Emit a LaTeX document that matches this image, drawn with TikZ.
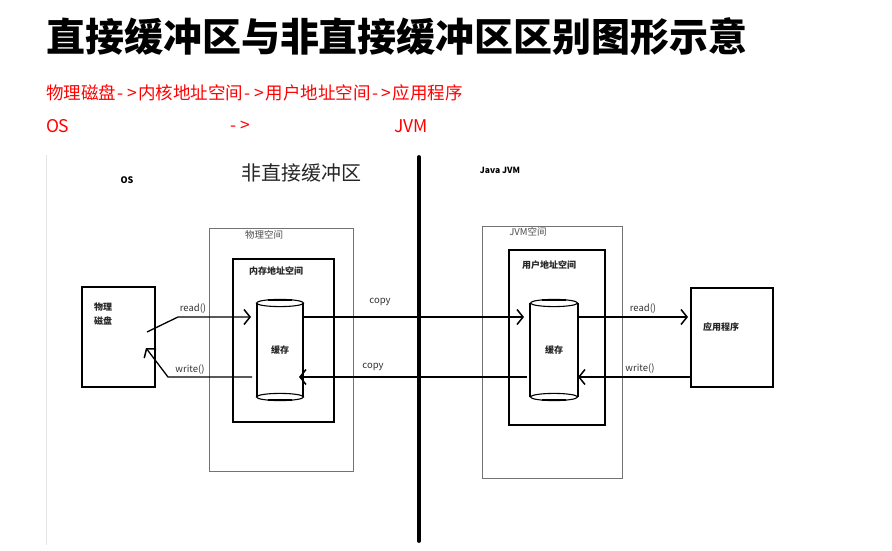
\documentclass[tikz,border=0pt]{standalone}
\usepackage{fontspec}
\newfontfamily\cjk{Noto Sans CJK SC}
\usetikzlibrary{arrows.meta,calc}
\newcommand\goesto{\kern1.5pt-\kern3.5pt>\kern1.5pt}
\begin{document}
\begin{tikzpicture}[x=1pt,y=-1pt,
  every node/.style={font=\cjk, inner sep=0pt, outer sep=0pt},
  thickbox/.style={draw=black, line width=2.8pt, anchor=north west},
  thinbox/.style={draw=black!55, line width=0.8pt, anchor=north west},
  tube/.style={draw=black, line width=1.4pt},
  flow/.style={draw=black, line width=1.3pt, -{Straight Barb[length=6pt,width=15pt,line width=1.5pt]}},
  lbl/.style={font=\cjk\fontsize{9.5}{10}\selectfont, text=black!80},
  boxlbl/.style={font=\cjk\bfseries\fontsize{9}{10}\selectfont, text=black!85},
  redtxt/.style={font=\cjk\fontsize{17.5}{19}\selectfont, text=red, anchor=west}]
\useasboundingbox (0,0) rectangle (892,551);
\fill[white] (0,0) rectangle (892,551);

% heading and the red path line
\node[anchor=west, font=\cjk\bfseries\fontsize{39}{42}\selectfont] (title) at (46,37) {直接缓冲区与非直接缓冲区区别图形示意};
\node[redtxt] (path) at (46,93) {物理磁盘\goesto 内核地址空间\goesto 用户地址空间\goesto 应用程序};
\node[redtxt] (osr) at (46,126) {OS};
\node[redtxt] (arr) at (229,126) {\goesto};
\node[redtxt] (jvmr) at (394,126) {JVM};

% frame edge and the divider
\coordinate (edgeT) at (46,155);
\coordinate (edgeB) at (46,545);
\draw[black!10, line width=0.8pt] (edgeT) -- (edgeB);
\coordinate (divT) at (419,157);
\coordinate (divB) at (419,541);
\draw[line width=3.8pt, line cap=round] (divT) -- (divB);

% section captions
\node[font=\cjk\bfseries\fontsize{9}{10}\selectfont] (os) at (127,180) {OS};
\node[font=\cjk\fontsize{20}{22}\selectfont, text=black!85] (nd) at (301,173) {非直接缓冲区};
\node[font=\cjk\bfseries\fontsize{8.5}{10}\selectfont] (java) at (500,170) {Java JVM};

% OS side boxes
\node[thinbox, minimum width=144, minimum height=243] (phys) at (209,228) {};
\node[font=\cjk\fontsize{9.5}{10}\selectfont, text=black!70] (physl) at (264,235) {物理空间};
\node[thickbox, minimum width=101, minimum height=163] (kmem) at (233,259) {};
\node[boxlbl] (kmeml) at (276,271) {内存地址空间};
\node[thickbox, minimum width=73, minimum height=100] (disk) at (82,287) {};
\node[boxlbl, align=left, anchor=north west, font=\cjk\bfseries\fontsize{9}{14}\selectfont] (diskl) at (94,303) {物理\\磁盘};

% JVM side boxes
\node[thinbox, minimum width=140, minimum height=252] (jvm) at (482,226) {};
\node[font=\cjk\fontsize{9.5}{10}\selectfont, text=black!70] (jvml) at (528,232) {JVM空间};
\node[thickbox, minimum width=96, minimum height=175] (umem) at (509,250) {};
\node[boxlbl] (umeml) at (549,265) {用户地址空间};
\node[thickbox, minimum width=82, minimum height=99] (app) at (691,288) {};
\node[boxlbl] (appl) at (721,327) {应用程序};

% buffer cylinders
\node[boxlbl, minimum width=46, minimum height=94] (cacheL) at (280,350) {缓存};
\node[boxlbl, minimum width=48, minimum height=94] (cacheR) at (554,350) {缓存};
\foreach \c in {cacheL,cacheR}{
  \draw[tube] (\c.north west) -- (\c.south west);
  \draw[tube] (\c.north east) -- (\c.south east);
  \draw[tube, line width=1.1pt] (\c.north) ellipse [x radius=23.5pt, y radius=3.6pt];
  \draw[tube, line width=1.1pt] (\c.south) ellipse [x radius=23.5pt, y radius=3.6pt];
  \draw[line width=2.2pt] ($(\c.north)+(-12,-3.2)$) -- ($(\c.north)+(12,-3.2)$);
  \draw[line width=2.2pt] ($(\c.south)+(-12,3.2)$) -- ($(\c.south)+(12,3.2)$);
}

% rows for the flows
\coordinate (rowT) at (0,317);
\coordinate (rowB) at (0,377);

% disk <-> kernel buffer
\coordinate (rdA) at (147,332);
\coordinate (rdB) at (178,317);
\draw[flow, shorten >=6pt] (rdA) -- (rdB) -- (cacheL.west |- rowT);
\node[lbl] (readL) at (193,309) {read()};
\coordinate (wrA) at ($(cacheL.west |- rowB)+(-5,0)$);
\coordinate (wrB) at (168,377);
\coordinate (wrC) at (146,348);
\draw[flow] (wrA) -- (wrB) -- (wrC);
\node[lbl] (writeL) at (190,370) {write()};

% kernel buffer <-> user buffer
\draw[flow, shorten >=6pt] (cacheL.east |- rowT) -- (cacheR.west |- rowT);
\node[lbl] (copyT) at (380,302) {copy};
\draw[flow, shorten >=-4pt] ($(cacheR.west |- rowB)+(-3,0)$) -- (cacheL.east |- rowB);
\node[lbl] (copyB) at (373,367) {copy};

% user buffer <-> application
\draw[flow, shorten >=3pt] (cacheR.east |- rowT) -- (app.west |- rowT);
\node[lbl] (readR) at (643,309) {read()};
\draw[flow] (app.west |- rowB) -- (cacheR.east |- rowB);
\node[lbl] (writeR) at (640,369) {write()};
\end{tikzpicture}
\end{document}
